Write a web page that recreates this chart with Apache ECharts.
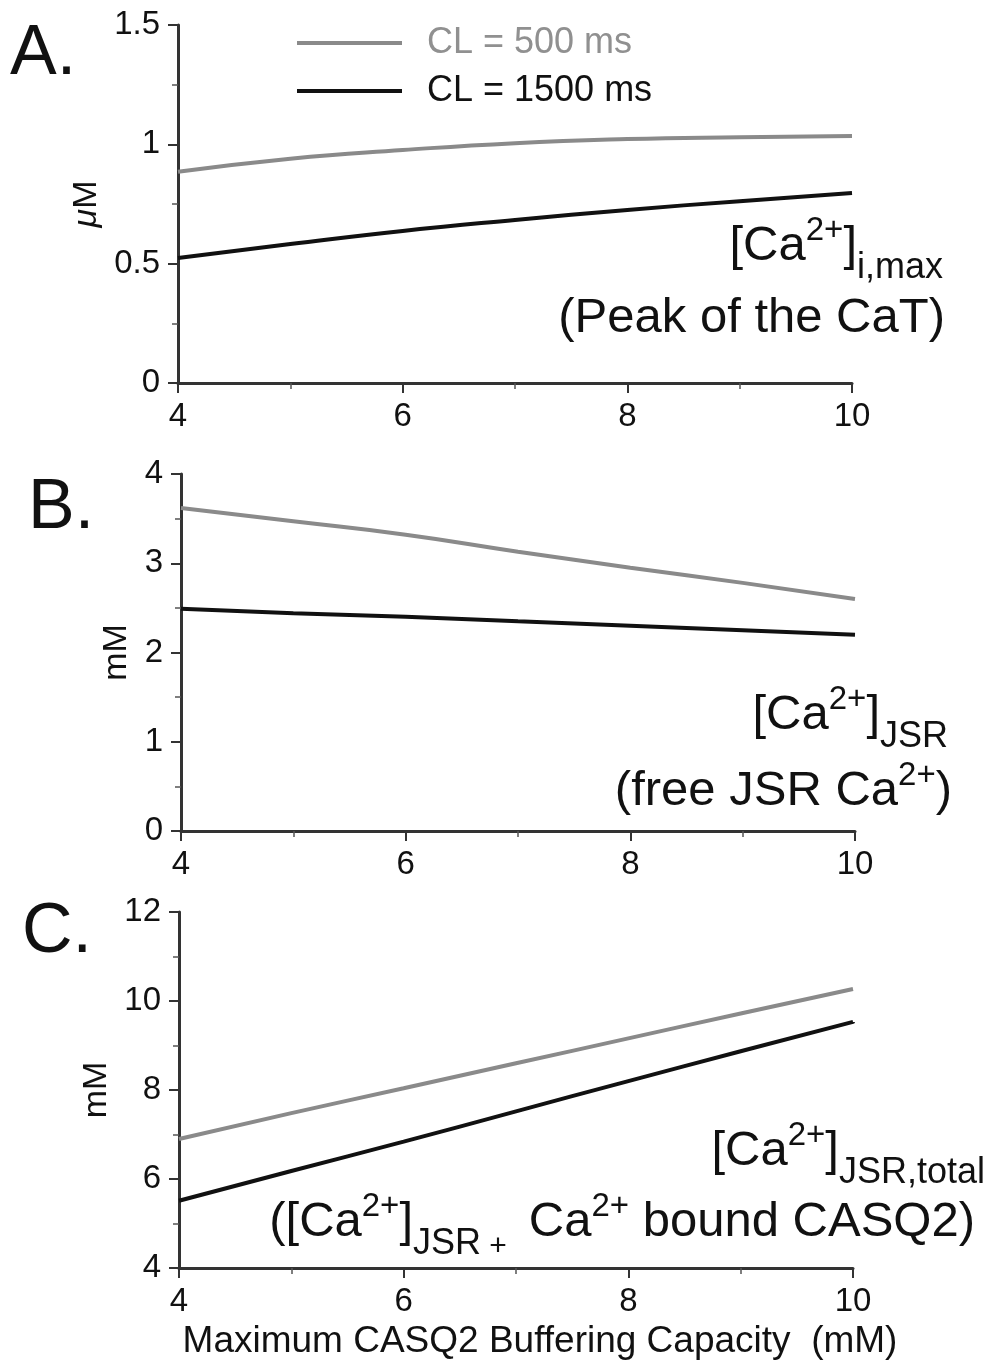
<!DOCTYPE html>
<html>
<head>
<meta charset="utf-8">
<script src="https://cdn.jsdelivr.net/npm/echarts@6/dist/echarts.min.js"></script>
<style>
  html, body { margin: 0; padding: 0; background: #fff; }
  #chart { width: 995px; height: 1368px; }
</style>
</head>
<body>
<div id="chart"></div>
<script>
// CASQ2 buffering capacity (mM)
var casq = [4, 5, 6, 7, 8, 9, 10];
// A. peak CaT (uM)
var peak500 = [0.885, 0.94, 0.976, 1.005, 1.022, 1.03, 1.035];
var peak1500 = [0.524, 0.582, 0.637, 0.683, 0.725, 0.762, 0.796];
// B. free JSR Ca (mM)
var jsr500 = [3.62, 3.47, 3.32, 3.13, 2.95, 2.78, 2.60];
var jsr1500 = [2.49, 2.44, 2.40, 2.35, 2.30, 2.25, 2.20];
// C. total JSR Ca (mM)
var tot500 = [6.90, 7.48, 8.04, 8.60, 9.16, 9.72, 10.27];
var tot1500 = [5.51, 6.18, 6.84, 7.52, 8.20, 8.87, 9.53];

var gray = '#8a8a8a', black = '#111';
var font = 'Liberation Sans';

function pairs(ys) {
    return casq.map(function (x, i) { return [x, ys[i]]; });
}

const myChart = echarts.init(document.getElementById('chart'));

function xAx(idx, name) {
    return {
        type: 'value', gridIndex: idx, min: 4, max: 10, interval: 2,
        name: name || '', nameLocation: 'middle', nameGap: 55,
        nameTextStyle: { fontSize: 37, color: '#111', padding: [0, 0, 0, 48] },
        axisLine: { show: true, lineStyle: { color: '#333', width: 3 } },
        axisTick: { show: true, length: 10, lineStyle: { color: '#333', width: 2 } },
        minorTick: { show: true, splitNumber: 2, length: 6, lineStyle: { color: '#555', width: 1.5 } },
        axisLabel: { fontSize: 33, color: '#111', margin: 17 },
        splitLine: { show: false }
    };
}
function yAx(idx, min, max, interval, name, gap) {
    return {
        type: 'value', gridIndex: idx, min: min, max: max, interval: interval,
        name: name, nameLocation: 'middle', nameGap: gap,
        nameTextStyle: { fontSize: 34, color: '#111', rich: { i: { fontSize: 34, fontStyle: 'italic', color: '#111' } } },
        axisLine: { show: true, lineStyle: { color: '#333', width: 3 } },
        axisTick: { show: true, length: 10, lineStyle: { color: '#333', width: 2 } },
        minorTick: { show: true, splitNumber: 2, length: 6, lineStyle: { color: '#555', width: 1.5 } },
        axisLabel: { fontSize: 33, color: '#111', margin: 18 },
        splitLine: { show: false }
    };
}
function line(name, idx, ys, color) {
    return {
        name: name, type: 'line', xAxisIndex: idx, yAxisIndex: idx,
        data: pairs(ys), smooth: true, showSymbol: false, symbol: 'none',
        lineStyle: { color: color, width: 4 }, itemStyle: { color: color }
    };
}

// main text pushed down a bit so the superscript sits higher
var rich = {
    a: { fontSize: 49, lineHeight: 64, verticalAlign: 'top', padding: [8, 0, 0, 0], color: '#111' },
    sup: { fontSize: 33, lineHeight: 38, verticalAlign: 'top', color: '#111' },
    sub: { fontSize: 36, lineHeight: 72, verticalAlign: 'bottom', color: '#111' },
    pl: { fontSize: 30, lineHeight: 72, verticalAlign: 'bottom', color: '#111' }
};
function label(x, y, text) {
    return {
        type: 'text', right: x, top: y,
        style: { text: text, rich: rich, font: '49px ' + font, fill: '#111', align: 'right' }
    };
}

const option = {
    animation: false,
    textStyle: { fontFamily: font },
    grid: [
        { left: 178, width: 674, top: 25, height: 358 },
        { left: 181, width: 674, top: 474, height: 357 },
        { left: 179, width: 674, top: 912, height: 356 }
    ],
    xAxis: [xAx(0), xAx(1), xAx(2, 'Maximum CASQ2 Buffering Capacity  (mM)')],
    yAxis: [
        yAx(0, 0, 1.5, 0.5, '{i|μ}M', 72),
        yAx(1, 0, 4, 1, 'mM', 44),
        yAx(2, 4, 12, 2, 'mM', 62)
    ],
    legend: {
        orient: 'vertical', left: 292, top: 20, itemGap: 12,
        icon: 'rect', itemWidth: 105, itemHeight: 4,
        selectedMode: false,
        textStyle: { fontSize: 36, padding: [0, 0, 0, 20] },
        data: [
            { name: 'CL = 500 ms', textStyle: { color: '#909090' } },
            { name: 'CL = 1500 ms', textStyle: { color: '#111' } }
        ]
    },
    series: [
        line('CL = 500 ms', 0, peak500, gray),
        line('CL = 1500 ms', 0, peak1500, black),
        line('CL = 500 ms', 1, jsr500, gray),
        line('CL = 1500 ms', 1, jsr1500, black),
        line('CL = 500 ms', 2, tot500, gray),
        line('CL = 1500 ms', 2, tot1500, black)
    ],
    graphic: [
        { type: 'text', left: 10, top: 20, style: { text: 'A.', fontSize: 70, fontFamily: font, fill: '#111' } },
        { type: 'text', left: 28, top: 474, style: { text: 'B.', fontSize: 70, fontFamily: font, fill: '#111' } },
        { type: 'text', left: 22, top: 898, style: { text: 'C.', fontSize: 70, fontFamily: font, fill: '#111' } },
        label(52, 214, '{a|[Ca}{sup|2+}{a|]}{sub|i,max}'),
        label(50, 286, '{a|(Peak of the CaT)}'),
        label(47, 683, '{a|[Ca}{sup|2+}{a|]}{sub|JSR}'),
        label(43, 759, '{a|(free JSR Ca}{sup|2+}{a|)}'),
        label(10, 1119, '{a|[Ca}{sup|2+}{a|]}{sub|JSR,total}'),
        label(20, 1190, '{a|([Ca}{sup|2+}{a|]}{sub|JSR}{pl| + }{a| Ca}{sup|2+}{a| bound CASQ2)}')
    ]
};

// 使用刚指定的配置项和数据显示图表。
myChart.setOption(option);
</script>
</body>
</html>
